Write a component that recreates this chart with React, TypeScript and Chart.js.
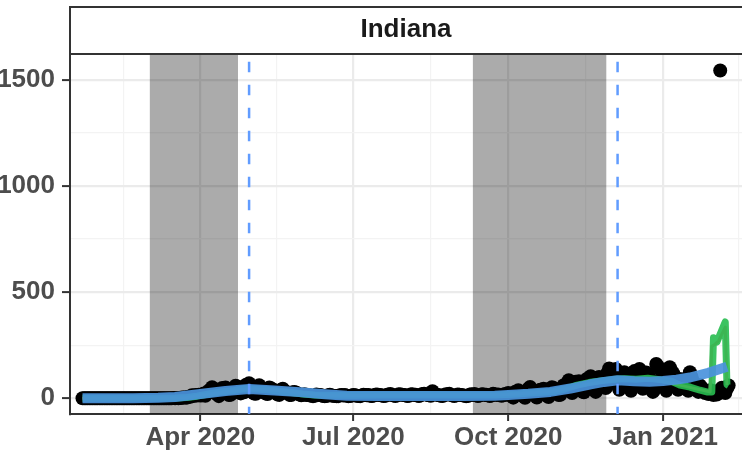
import React, { useEffect, useRef } from 'react';
import { Chart, registerables } from 'chart.js';

Chart.register(...registerables);

const FONT = '"Liberation Sans", Arial, Helvetica, sans-serif';

// Daily values, day 0 = 2020-01-22
const janToMar15 = [
  0, 0, 0, 0, 0, 0, 0, 0, 0, 0, 0, 0, 0, 0, 0, 0, 0, 0,
  0, 0, 0, 0, 0, 0, 0, 0, 0, 0, 0, 0, 0, 0, 0, 0, 0, 0,
  0, 0, 0, 0, 0, 0, 0, 0, 0, 0, 0, 0, 0, 0, 0, 0, 0, 0,
];
const mar16to31 = [1, 0, 1, 0, 1, 4, 2, 5, 3, 7, 7, 14, 11, 16, 13, 17];
const apr2020 = [13, 14, 23, 12, 24, 36, 30, 52, 30, 24, 31, 10, 20, 49, 44, 51, 41, 15, 17, 32, 43, 59, 55, 47, 23, 28, 28, 63, 60, 71];
const may2020 = [44, 29, 22, 21, 48, 62, 42, 38, 30, 22, 20, 51, 47, 40, 38, 30, 18, 16, 40, 45, 35, 30, 27, 16, 15, 28, 30, 26, 22, 18, 14];
const jun2020 = [17, 19, 16, 15, 14, 12, 10, 12, 18, 16, 15, 14, 11, 10, 11, 14, 17, 13, 12, 11, 10, 10, 14, 16, 13, 15, 12, 10, 11, 13];
const jul2020 = [16, 14, 12, 11, 10, 13, 17, 15, 14, 16, 12, 11, 13, 17, 18, 15, 16, 13, 11, 12, 17, 18, 20, 15, 13, 11, 14, 19, 18, 17, 15];
const aug2020 = [14, 11, 12, 18, 19, 16, 17, 13, 11, 14, 20, 21, 19, 15, 14, 12, 33, 22, 18, 16, 14, 12, 11, 15, 19, 18, 21, 16, 13, 11, 14];
const sep2020 = [18, 17, 16, 14, 12, 10, 11, 17, 19, 15, 20, 14, 11, 13, 18, 19, 16, 17, 14, 11, 13, 21, 19, 15, 18, 16, 12, 14, 20, 17];
const oct2020 = [25, 18, 10, 3, 30, 28, 38, 24, 17, 9, 2, 33, 45, 53, 30, 22, 12, 4, 35, 40, 30, 45, 28, 12, 6, 40, 52, 48, 38, 26, 15];
const nov2020 = [17, 45, 62, 58, 66, 85, 40, 25, 70, 78, 72, 80, 60, 32, 28, 85, 92, 80, 104, 98, 50, 30, 95, 100, 90, 88, 55, 48, 120, 140];
const dec2020 = [110, 92, 125, 138, 60, 40, 118, 112, 123, 98, 95, 55, 35, 120, 128, 116, 108, 138, 70, 45, 110, 122, 115, 98, 60, 30, 42, 162, 150, 140, 95];
const jan2021 = [80, 55, 35, 110, 146, 130, 118, 95, 62, 40, 91, 85, 88, 70, 60, 35, 123, 100, 78, 60, 45, 30, 61, 50, 40, 25, 30, 20, 38, 35, 15];
const feb2021 = [22, 18, 35, 1544, 50, 30, 25, 45, 60];

// Smoothed (blue) line
const blueDays = [0, 30, 45, 55, 70, 85, 99, 114, 129, 144, 157, 175, 200, 225, 245, 253, 265, 278, 290, 302, 310, 318, 328, 337, 345, 353, 361, 372, 383];
const blueVals = [0, 0, 2, 6, 20, 34, 44, 37, 29, 19, 12, 11, 11, 11, 12, 15, 21, 30, 46, 66, 77, 85, 80, 78, 81, 88, 98, 120, 149];

// Green line
const greenDays = [0, 45, 55, 62, 68, 75, 82, 89, 96, 103, 110, 117, 124, 131, 138, 145, 152, 161, 175, 189, 203, 217, 231, 245, 259, 266, 273, 280, 287, 294, 301, 308, 315, 322, 329, 336, 343, 350, 355, 361, 367, 371, 374, 375, 377, 382, 383, 384];
const greenVals = [0, 0, 1, 4, 10, 20, 30, 35, 45, 44, 40, 33, 27, 20, 15, 14, 14, 14, 15, 16, 17, 15, 15, 16, 20, 25, 28, 32, 45, 62, 74, 82, 88, 92, 90, 94, 88, 80, 62, 53, 38, 30, 30, 285, 265, 360, 65, 60];

// Red line (mostly under green)
const redDays = [0, 50, 62, 70, 85, 99, 115, 130, 145, 161, 200, 253, 280, 300, 318, 340, 355, 372, 373, 374, 376, 378, 382, 383];
const redVals = [0, 0, 3, 14, 30, 44, 38, 26, 15, 13, 14, 18, 33, 65, 88, 86, 62, 32, 30, 245, 255, 270, 335, 62];

// Axes
const xTickDays = [70, 161, 253, 345];
const xTickLabels = ['Apr 2020', 'Jul 2020', 'Oct 2020', 'Jan 2021'];
const xMinorDays = [24.5, 115.5, 207, 299, 390];
const yTicks = [0, 500, 1000, 1500];
const yMinor = [250, 750, 1250];

// Shaded periods and marker lines (day numbers)
const shadeStart = [40, 232];
const shadeEnd = [92.4, 311.3];
const markerDays = [99, 318];

const stripTitle = 'Indiana';

const daily = [
  ...janToMar15, ...mar16to31, ...apr2020, ...may2020, ...jun2020, ...jul2020,
  ...aug2020, ...sep2020, ...oct2020, ...nov2020, ...dec2020, ...jan2021, ...feb2021,
];

const decorPlugin = {
  id: 'decor',
  beforeDatasetsDraw(chart: any) {
    const { ctx, chartArea, scales } = chart;
    ctx.save();
    ctx.fillStyle = 'rgba(0,0,0,0.33)';
    for (let i = 0; i < shadeStart.length; i++) {
      const x1 = scales.x.getPixelForValue(shadeStart[i]);
      const x2 = scales.x.getPixelForValue(shadeEnd[i]);
      ctx.fillRect(x1, chartArea.top, x2 - x1, chartArea.bottom - chartArea.top);
    }
    ctx.restore();
  },
  afterDatasetsDraw(chart: any) {
    const { ctx, chartArea, scales } = chart;
    ctx.save();
    ctx.strokeStyle = '#619CFF';
    ctx.lineWidth = 2.5;
    ctx.setLineDash([10.5, 12.5]);
    ctx.lineDashOffset = 16.3;
    for (const d of markerDays) {
      const x = scales.x.getPixelForValue(d);
      ctx.beginPath();
      ctx.moveTo(x, chartArea.top);
      ctx.lineTo(x, chartArea.bottom);
      ctx.stroke();
    }
    ctx.restore();
  },
  afterDraw(chart: any) {
    const { ctx, chartArea } = chart;
    ctx.save();
    ctx.strokeStyle = '#333333';
    ctx.lineWidth = 2;
    ctx.strokeRect(chartArea.left, 7, chart.width - chartArea.left + 10, chartArea.top - 1 - 7);
    ctx.restore();
  },
};

export default function App() {
  const ref = useRef<HTMLCanvasElement | null>(null);

  useEffect(() => {
    document.body.style.margin = '0';
    const canvas = ref.current;
    if (!canvas) return;
    const isMajorX = (v: number) => xTickDays.indexOf(v) >= 0;
    const isMajorY = (v: number) => yTicks.indexOf(v) >= 0;

    const chart = new Chart(canvas, {
      type: 'scatter',
      data: {
        datasets: [
          {
            label: 'smooth',
            data: blueDays.map((d, i) => ({ x: d, y: blueVals[i] })),
            showLine: true,
            borderColor: 'rgba(74,146,220,0.92)',
            borderWidth: 10,
            pointRadius: 0,
            borderCapStyle: 'butt',
            borderJoinStyle: 'round',
            order: 0,
          } as any,
          {
            label: 'green',
            data: greenDays.map((d, i) => ({ x: d, y: greenVals[i] })),
            showLine: true,
            borderColor: 'rgba(40,188,80,0.9)',
            borderWidth: 7,
            pointRadius: 0,
            borderCapStyle: 'butt',
            borderJoinStyle: 'round',
            order: 1,
          } as any,
          {
            label: 'red',
            data: redDays.map((d, i) => ({ x: d, y: redVals[i] })),
            showLine: true,
            borderColor: '#F8766D',
            borderWidth: 3,
            pointRadius: 0,
            borderJoinStyle: 'round',
            order: 2,
          } as any,
          {
            label: 'daily',
            data: daily.map((v, i) => ({ x: i, y: v })),
            pointRadius: 7,
            pointHoverRadius: 7,
            backgroundColor: '#000000',
            borderWidth: 0,
            order: 3,
          } as any,
        ],
      },
      options: {
        animation: false,
        responsive: false,
        events: [],
        layout: { autoPadding: false, padding: { top: 7, left: 0, right: 0, bottom: 0 } },
        plugins: {
          legend: { display: false },
          tooltip: { enabled: false },
          title: {
            display: true,
            text: stripTitle,
            fullSize: false,
            color: '#1a1a1a',
            font: { size: 26, weight: 'bold', family: FONT },
            padding: { top: 7.5, bottom: 9.3 },
          },
        },
        scales: {
          x: {
            type: 'linear',
            min: -7.44,
            max: 391.95,
            afterBuildTicks: (s: any) => {
              s.ticks = [...xMinorDays, ...xTickDays].sort((a, b) => a - b).map((v) => ({ value: v }));
            },
            afterFit: (s: any) => {
              s.height = 39;
            },
            ticks: {
              autoSkip: false,
              maxRotation: 0,
              minRotation: 0,
              padding: 1,
              color: '#4d4d4d',
              font: { size: 26, weight: 'bold', family: FONT },
              callback: (v: any) => {
                const i = xTickDays.indexOf(Number(v));
                return i >= 0 ? xTickLabels[i] : '';
              },
            },
            grid: {
              color: (c: any) => (isMajorX(c.tick?.value) ? '#ebebeb' : '#f3f3f3'),
              lineWidth: (c: any) => (isMajorX(c.tick?.value) ? 2.2 : 1.2),
              tickLength: 7,
              tickWidth: 2,
              tickColor: (c: any) => (isMajorX(c.tick?.value) ? '#333333' : 'rgba(0,0,0,0)'),
            },
            border: { display: true, color: '#333333', width: 2 },
          },
          y: {
            type: 'linear',
            min: -74,
            max: 1617,
            afterBuildTicks: (s: any) => {
              s.ticks = [...yTicks, ...yMinor].sort((a, b) => a - b).map((v) => ({ value: v }));
            },
            afterFit: (s: any) => {
              s.width = 70;
            },
            ticks: {
              autoSkip: false,
              padding: 7,
              color: '#4d4d4d',
              font: { size: 26, weight: 'bold', family: FONT },
              callback: (v: any) => (isMajorY(Number(v)) ? String(v) : ''),
            },
            grid: {
              color: (c: any) => (isMajorY(c.tick?.value) ? '#ebebeb' : '#f3f3f3'),
              lineWidth: (c: any) => (isMajorY(c.tick?.value) ? 2.2 : 1.2),
              tickLength: 8,
              tickWidth: 2,
              tickColor: (c: any) => (isMajorY(c.tick?.value) ? '#333333' : 'rgba(0,0,0,0)'),
            },
            border: { display: true, color: '#333333', width: 2 },
          },
        },
      } as any,
      plugins: [decorPlugin],
    });
    return () => chart.destroy();
  }, []);

  return (
    <div style={{ position: 'fixed', left: 0, top: 0, width: 742, height: 453, background: '#ffffff' }}>
      <canvas ref={ref} width={742} height={453} style={{ display: 'block', width: 742, height: 453 }} />
    </div>
  );
}
